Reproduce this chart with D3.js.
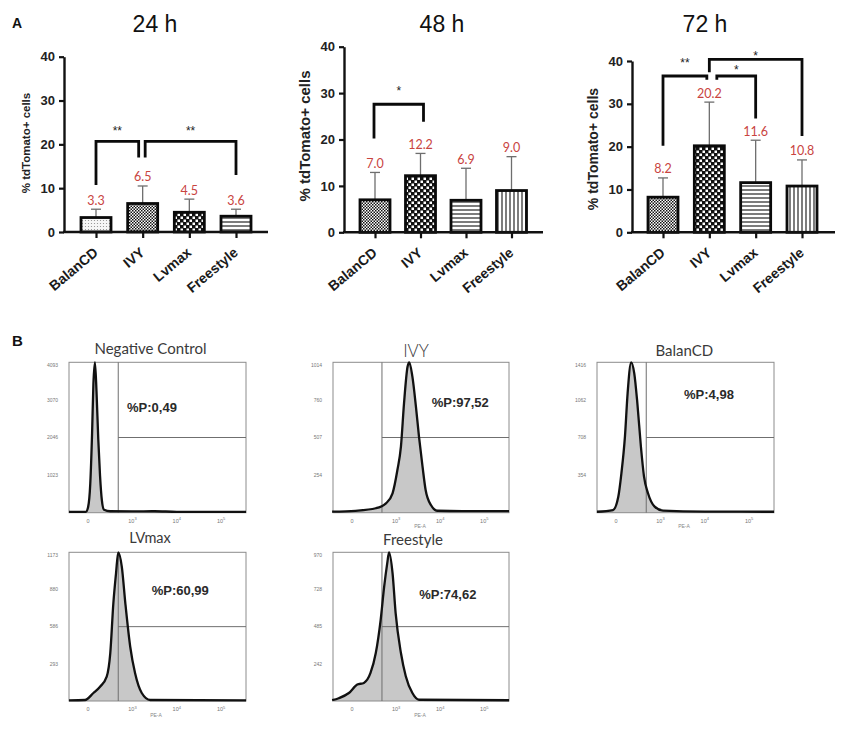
<!DOCTYPE html>
<html><head><meta charset="utf-8">
<script src="https://cdn.jsdelivr.net/npm/d3@7"></script>
<style>body{margin:0;background:#fff} svg{display:block}</style>
</head><body>
<svg id="chart" width="864" height="733"></svg>
<script>
// ---------------- DATA ----------------
const groups = ["BalanCD", "IVY", "Lvmax", "Freestyle"];
const timepoints = ["24 h", "48 h", "72 h"];
const mean24 = [3.3, 6.5, 4.5, 3.6];
const sd24   = [1.9, 4.0, 3.0, 1.6];
const mean48 = [7.0, 12.2, 6.9, 9.0];
const sd48   = [5.9, 4.8, 6.9, 7.3];
const mean72 = [8.2, 20.2, 11.6, 10.8];
const sd72   = [4.5, 10.2, 9.9, 6.1];
const yTicksA = [0, 10, 20, 30, 40];
const yLabelA = "% tdTomato+ cells";

// significance brackets: level of bar, leg ends, star label (glyph centre) in data units
const sig24 = [
  {from: "BalanCD", to: "IVY", level: 20.7, fromEnd: 10.7, toEnd: 17.0, label: "**", labelAt: 23.7},
  {from: "IVY", to: "Freestyle", level: 20.7, fromEnd: 17.0, toEnd: 13.0, label: "**", labelAt: 23.7}
];
const sig48 = [
  {from: "BalanCD", to: "IVY", level: 27.6, fromEnd: 20.2, toEnd: 23.8, label: "*", labelAt: 31.1}
];
const sig72 = [
  {from: "BalanCD", to: "IVY", level: 36.5, fromEnd: 20.2, toEnd: 35.6, label: "**", labelAt: 40.3},
  {from: "IVY", to: "Lvmax", level: 36.5, fromEnd: 35.6, toEnd: 26.6, label: "*", labelAt: 38.7},
  {from: "IVY", to: "Freestyle", level: 40.4, fromEnd: 37.4, toEnd: 22.5, label: "*", labelAt: 41.8}
];

// flow cytometry histograms: [position in decades (0 -> "0", 1 -> 10^3 ...), event count]
const flowTitles  = ["Negative Control", "IVY", "BalanCD", "LVmax", "Freestyle"];
const flowPercent = ["%P:0,49", "%P:97,52", "%P:4,98", "%P:60,99", "%P:74,62"];
const flowYMax    = [4093, 1014, 1416, 1173, 970];
const flowYTicks  = [
  ["1023", "2046", "3070", "4093"],
  ["254", "507", "760", "1014"],
  ["354", "708", "1062", "1416"],
  ["293", "586", "880", "1173"],
  ["242", "485", "728", "970"]
];
const flowXTickVals = [0, 1, 2, 3];
const flowXTickBase = ["0", "10", "10", "10"];
const flowXTickExp  = ["", "3", "4", "5"];
const flowGate = 0.68;
const histNegative = [[-0.43,25],[-0.05,25],[0.0,150],[0.05,800],[0.09,2150],[0.12,3500],[0.155,4093],[0.19,3300],[0.23,2000],[0.27,1000],[0.31,350],[0.36,80],[0.5,40],[1.0,35],[1.5,40],[2.0,25],[3.0,25],[3.56,25]];
const histIVY = [[-0.45,7],[0.08,13],[0.54,30],[0.77,63],[0.92,131],[1.03,288],[1.11,445],[1.18,737],[1.26,984],[1.30,1014],[1.37,917],[1.45,715],[1.52,512],[1.60,310],[1.67,153],[1.79,52],[1.94,13],[2.5,10],[3.56,10]];
const histBalanCD = [[-0.43,9],[-0.07,25],[0.05,150],[0.12,371],[0.20,716],[0.26,1124],[0.34,1416],[0.41,1312],[0.48,1030],[0.56,621],[0.63,339],[0.72,183],[0.87,57],[1.06,19],[2.0,10],[3.56,9]];
const histLVmax = [[-0.43,5],[-0.07,8],[0.12,63],[0.27,113],[0.42,192],[0.50,376],[0.57,771],[0.63,1007],[0.68,1173],[0.76,1060],[0.84,771],[0.95,428],[1.06,218],[1.21,63],[1.40,8],[3.56,5]];
const histFreestyle = [[-0.45,5],[-0.30,18],[-0.07,52],[0.12,107],[0.27,118],[0.42,183],[0.54,313],[0.65,528],[0.73,746],[0.80,899],[0.84,970],[0.92,834],[0.99,573],[1.11,313],[1.22,162],[1.37,52],[1.52,8],[3.56,5]];
const flowHists = [histNegative, histIVY, histBalanCD, histLVmax, histFreestyle];

// ---------------- LAYOUT / STYLE ----------------
const fills = [
  ["dots", "fineCheck", "bigCheck", "hlines"],
  ["fineCheck", "bigCheck", "hlines", "vlines"],
  ["fineCheck", "bigCheck", "hlines", "vlines"]
];
const layoutA = [
  {axisX: 64,  axisEnd: 268, y0: 232,   yTop: 56.7, c0: 96,  c1: 236,   titleX: 155, labX: 30,  labY: 143, labSize: 11.5, nudge: [[0,-4],[2.5,0]]},
  {axisX: 344, axisEnd: 543, y0: 232.3, yTop: 46.7, c0: 375, c1: 511.5, titleX: 442, labX: 310, labY: 136, labSize: 15,   nudge: [[-1,3]]},
  {axisX: 632, axisEnd: 835, y0: 232.3, yTop: 61,   c0: 663, c1: 802,   titleX: 705, labX: 598, labY: 149, labSize: 14,   nudge: [[0,-2.5],[7.5,0],[0,0]]}
];
const flowLayout = [
  {x: 69,  y: 362.3, w: 177, h: 150.4, tx: 150.5, ty: 354,   ts: 15,   tw: 400, px: 127,   py: 411.7, pe: false},
  {x: 333, y: 362.3, w: 176, h: 150.4, tx: 416,   ty: 356.7, ts: 17,   tw: 300, px: 431.7, py: 407.3, pe: true},
  {x: 597, y: 362.3, w: 177, h: 150.4, tx: 684.3, ty: 356,   ts: 15,   tw: 400, px: 684,   py: 399,   pe: true},
  {x: 69,  y: 552.3, w: 177, h: 148.7, tx: 150,   ty: 542.7, ts: 14.5, tw: 400, px: 151.7, py: 595,   pe: true},
  {x: 333, y: 552.3, w: 176, h: 148.7, tx: 413,   ty: 545,   ts: 15,   tw: 400, px: 419.3, py: 599.3, pe: true}
];
const flowXDomain = [-0.43, 3.56];
const ARIAL = "'Liberation Sans', Arial, sans-serif";
const CALIBRI = "Lato, 'Open Sans', sans-serif";

// ---------------- DRAW ----------------
const svg = d3.select("#chart");
const defs = svg.append("defs");
function makePattern(id, w, h, build) {
  const p = defs.append("pattern").attr("id", id).attr("patternUnits", "userSpaceOnUse")
    .attr("width", w).attr("height", h);
  build(p);
}
makePattern("fineCheck", 3, 3, p => {
  p.append("rect").attr("width", 3).attr("height", 3).attr("fill", "#fff");
  p.append("rect").attr("width", 1.5).attr("height", 1.5).attr("fill", "#111");
  p.append("rect").attr("x", 1.5).attr("y", 1.5).attr("width", 1.5).attr("height", 1.5).attr("fill", "#111");
});
makePattern("bigCheck", 6, 6, p => {
  p.append("rect").attr("width", 6).attr("height", 6).attr("fill", "#111");
  p.append("rect").attr("x", 0.5).attr("y", 0.5).attr("width", 2.5).attr("height", 2.5).attr("fill", "#fff");
  p.append("rect").attr("x", 3.5).attr("y", 3.5).attr("width", 2.5).attr("height", 2.5).attr("fill", "#fff");
});
makePattern("dots", 3, 3, p => {
  p.append("rect").attr("width", 3).attr("height", 3).attr("fill", "#f6f6f6");
  p.append("circle").attr("cx", 1.5).attr("cy", 1.5).attr("r", 0.6).attr("fill", "#8a8a8a");
});
makePattern("hlines", 4, 4, p => {
  p.append("rect").attr("width", 4).attr("height", 4).attr("fill", "#fff");
  p.append("line").attr("x1", 0).attr("x2", 4).attr("y1", 2).attr("y2", 2).attr("stroke", "#111").attr("stroke-width", 1.1);
});
makePattern("vlines", 4, 4, p => {
  p.append("rect").attr("width", 4).attr("height", 4).attr("fill", "#fff");
  p.append("line").attr("y1", 0).attr("y2", 4).attr("x1", 2).attr("x2", 2).attr("stroke", "#111").attr("stroke-width", 1.1);
});

// panel letters
svg.append("text").attr("x", 12).attr("y", 28).text("A")
  .attr("font-family", ARIAL).attr("font-weight", "bold").attr("font-size", 14).attr("fill", "#111");
svg.append("text").attr("x", 12).attr("y", 346).text("B")
  .attr("font-family", ARIAL).attr("font-weight", "bold").attr("font-size", 15).attr("fill", "#111");

const panelsA = [
  {title: timepoints[0], means: mean24, sds: sd24, sig: sig24},
  {title: timepoints[1], means: mean48, sds: sd48, sig: sig48},
  {title: timepoints[2], means: mean72, sds: sd72, sig: sig72}
];

panelsA.forEach((P, pi) => {
  const L = layoutA[pi];
  const g = svg.append("g");
  const y = d3.scaleLinear().domain([0, 40]).range([L.y0, L.yTop]);
  const x = d3.scalePoint().domain(groups).range([L.c0, L.c1]);
  const barW = 30;

  // title
  g.append("text").attr("x", L.titleX).attr("y", 32).attr("text-anchor", "middle")
    .attr("font-family", ARIAL).attr("font-size", 23).attr("fill", "#111").text(P.title);

  // y label
  g.append("text").attr("transform", `translate(${L.labX},${L.labY}) rotate(-90)`)
    .attr("text-anchor", "middle").attr("font-family", ARIAL).attr("font-weight", "bold")
    .attr("font-size", L.labSize).attr("fill", "#222").text(yLabelA);

  // bars
  const rows = groups.map((k, i) => ({k, m: P.means[i], s: P.sds[i], f: fills[pi][i]}));
  // error bars (behind bars)
  const eg = g.append("g").attr("stroke", "#6e6e6e").attr("stroke-width", 1.3);
  rows.forEach(d => {
    eg.append("line").attr("x1", x(d.k)).attr("x2", x(d.k)).attr("y1", y(d.m)).attr("y2", y(d.m + d.s));
    eg.append("line").attr("x1", x(d.k) - 5).attr("x2", x(d.k) + 5).attr("y1", y(d.m + d.s)).attr("y2", y(d.m + d.s));
  });
  g.selectAll("rect.bar").data(rows).join("rect").attr("class", "bar")
    .attr("x", d => x(d.k) - barW / 2).attr("width", barW)
    .attr("y", d => y(d.m)).attr("height", d => y(0) - y(d.m))
    .attr("fill", d => `url(#${d.f})`).attr("stroke", "#0a0a0a").attr("stroke-width", 2.8);

  // value labels
  g.selectAll("text.val").data(rows).join("text").attr("class", "val")
    .attr("x", d => x(d.k)).attr("y", d => y(d.m + d.s) - 4.5).attr("text-anchor", "middle")
    .attr("font-family", CALIBRI).attr("font-size", 12.5).attr("fill", "#c9443f")
    .text(d => d.m.toFixed(1));

  // y axis
  const gy = g.append("g").attr("transform", `translate(${L.axisX},0)`)
    .call(d3.axisLeft(y).tickValues(yTicksA).tickSize(5).tickSizeOuter(0).tickPadding(4));
  gy.select(".domain").attr("stroke", "#111").attr("stroke-width", 2.4);
  gy.selectAll(".tick line").attr("stroke", "#111").attr("stroke-width", 2.2);
  gy.selectAll(".tick text").attr("font-family", ARIAL).attr("font-weight", "bold")
    .attr("font-size", 13).attr("fill", "#222");

  // x axis
  g.append("line").attr("x1", L.axisX - 1).attr("x2", L.axisEnd).attr("y1", y(0)).attr("y2", y(0))
    .attr("stroke", "#111").attr("stroke-width", 2.4);
  const gx = g.append("g").attr("transform", `translate(0,${y(0)})`)
    .call(d3.axisBottom(x).tickSize(6).tickSizeOuter(0).tickFormat(""));
  gx.select(".domain").remove();
  gx.selectAll(".tick line").attr("stroke", "#111").attr("stroke-width", 2.2);
  g.selectAll("text.xl").data(groups).join("text").attr("class", "xl")
    .attr("transform", d => `translate(${x(d) + 3},${y(0) + 22}) rotate(-40)`)
    .attr("text-anchor", "end").attr("font-family", ARIAL).attr("font-weight", "bold")
    .attr("font-size", 14).attr("fill", "#1a1a1a").text(d => d);

  // significance brackets
  P.sig.forEach((s, si) => {
    const n = L.nudge[si];
    const x1 = x(s.from) + n[0], x2 = x(s.to) + n[1];
    g.append("path")
      .attr("d", `M${x1},${y(s.fromEnd)}V${y(s.level)}H${x2}V${y(s.toEnd)}`)
      .attr("fill", "none").attr("stroke", "#0a0a0a").attr("stroke-width", 2.8);
    g.append("text").attr("x", (x1 + x2) / 2).attr("y", y(s.labelAt) + 7).attr("text-anchor", "middle")
      .attr("font-family", ARIAL).attr("font-size", 12).attr("fill", "#222").text(s.label);
  });
});

// ---------------- PANEL B ----------------
flowHists.forEach((hist, i) => {
  const L = flowLayout[i];
  const g = svg.append("g");
  const xs = d3.scaleLinear().domain(flowXDomain).range([L.x, L.x + L.w]);
  const ys = d3.scaleLinear().domain([0, flowYMax[i]]).range([L.y + L.h, L.y]);

  g.append("text").attr("x", L.tx).attr("y", L.ty).attr("text-anchor", "middle")
    .attr("font-family", CALIBRI).attr("font-size", L.ts).attr("font-weight", L.tw)
    .attr("fill", "#3a3a3a").text(flowTitles[i]);

  const area = d3.area().x(d => xs(d[0])).y0(ys(0)).y1(d => ys(d[1])).curve(d3.curveMonotoneX);
  const line = d3.line().x(d => xs(d[0])).y(d => ys(d[1])).curve(d3.curveMonotoneX);
  g.append("path").datum(hist).attr("d", area).attr("fill", "#c8c8c8");

  // box
  g.append("rect").attr("x", L.x).attr("y", L.y).attr("width", L.w).attr("height", L.h)
    .attr("fill", "none").attr("stroke", "#8c8c8c").attr("stroke-width", 1);
  // gates
  g.append("line").attr("x1", xs(flowGate)).attr("x2", xs(flowGate)).attr("y1", L.y).attr("y2", L.y + L.h)
    .attr("stroke", "#6f6f6f").attr("stroke-width", 1);
  g.append("line").attr("x1", xs(flowGate)).attr("x2", L.x + L.w).attr("y1", ys(flowYMax[i] / 2)).attr("y2", ys(flowYMax[i] / 2))
    .attr("stroke", "#6f6f6f").attr("stroke-width", 1);

  g.append("path").datum(hist).attr("d", line).attr("fill", "none")
    .attr("stroke", "#111").attr("stroke-width", 2.3).attr("stroke-linejoin", "round");

  // y tick labels
  flowYTicks[i].forEach((t, k) => {
    g.append("text").attr("x", L.x - 11).attr("y", Math.max(ys(+t), L.y + 2.5)).attr("dy", "0.35em")
      .attr("text-anchor", "end").attr("font-family", ARIAL).attr("font-size", 5).attr("fill", "#777").text(t);
  });
  // x tick labels
  flowXTickVals.forEach((v, k) => {
    const t = g.append("text").attr("x", xs(v)).attr("y", L.y + L.h + 10).attr("text-anchor", "middle")
      .attr("font-family", ARIAL).attr("font-size", 5.5).attr("fill", "#777");
    t.append("tspan").text(flowXTickBase[k]);
    if (flowXTickExp[k]) t.append("tspan").attr("dy", -2.5).attr("font-size", 4).text(flowXTickExp[k]);
  });
  if (L.pe) {
    g.append("text").attr("x", L.x + 87).attr("y", L.y + L.h + 15.5).attr("text-anchor", "middle")
      .attr("font-family", ARIAL).attr("font-size", 5).attr("fill", "#888").text("PE-A");
  }
  g.append("text").attr("x", L.px).attr("y", L.py).attr("font-family", ARIAL).attr("font-weight", "bold")
    .attr("font-size", 13).attr("fill", "#2a2a2a").text(flowPercent[i]);
});
</script>
</body></html>
